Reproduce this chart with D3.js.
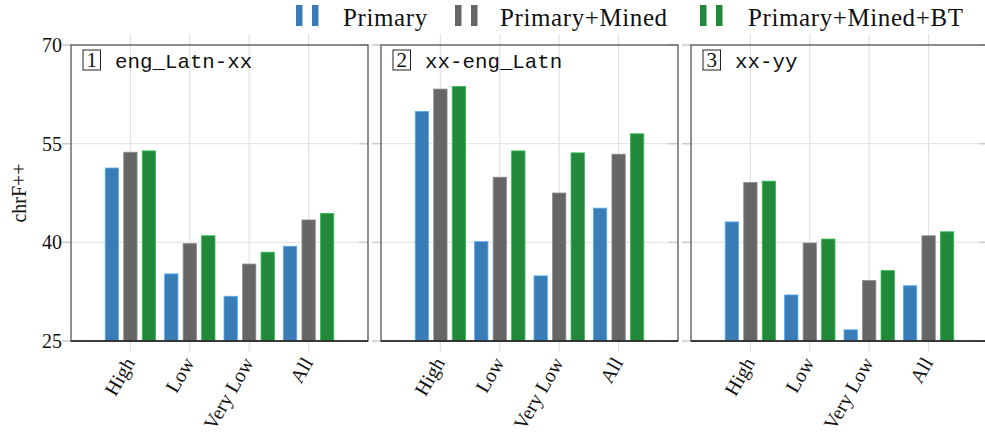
<!DOCTYPE html>
<html lang="en">
<head>
    <meta charset="UTF-8">
    <script src="https://d3js.org/d3.v7.min.js"></script>
    <title>chrF++ by resource level</title>
    <style>
        body { margin: 0; background: #fff; }
        .serif { font-family: "Liberation Serif", "DejaVu Serif", serif; fill: #111; }
        .mono { font-family: "Liberation Mono", "DejaVu Sans Mono", monospace; fill: #111; }
    </style>
</head>
<body>
    <div id="chart"></div>
<script>
    // data
    var categories = ["High", "Low", "Very Low", "All"];
    var series = ["Primary", "Primary+Mined", "Primary+Mined+BT"];
    var panels = ["eng_Latn-xx", "xx-eng_Latn", "xx-yy"];
    var yTicks = [25, 40, 55, 70];

    // one row per series, one value per category
    var engToXX = [
        [51.3, 35.2, 31.8, 39.4],
        [53.7, 39.8, 36.7, 43.4],
        [53.9, 41.0, 38.5, 44.4]
    ];
    var xxToEng = [
        [59.9, 40.1, 34.9, 45.2],
        [63.3, 49.9, 47.5, 53.4],
        [63.7, 53.9, 53.6, 56.5]
    ];
    var xxToYY = [
        [43.1, 32.0, 26.7, 33.4],
        [49.1, 39.9, 34.2, 41.0],
        [49.3, 40.5, 35.7, 41.6]
    ];
    var values = [engToXX, xxToEng, xxToYY];

    var colors = ["#3a7db6", "#666666", "#23893a"];

    var W = 985, H = 436;
    var plotTop = 45, plotBottom = 341, left0 = 71, panelW = 297, gap = 13;

    var svg = d3.select("#chart").append("svg")
        .attr("width", W).attr("height", H);

    var y = d3.scaleLinear().domain([25, 70]).range([plotBottom, plotTop]);

    panels.forEach(function(name, p) {
        var left = left0 + p * (panelW + gap), right = left + panelW;
        var g = svg.append("g");

        var x0 = d3.scalePoint().domain(categories).range([left, right]).padding(1);
        var groupW = x0.step() * 0.935;
        var x1 = d3.scaleBand().domain(series).range([-groupW / 2, groupW / 2])
            .paddingInner(0.28).paddingOuter(0.14);

        // vertical grid lines (with tick marks above and below)
        g.selectAll(null).data(categories).enter().append("line")
            .attr("x1", function(d) { return x0(d); }).attr("x2", function(d) { return x0(d); })
            .attr("y1", plotTop - 11).attr("y2", plotBottom + 11)
            .attr("stroke", "#e2e2e2").attr("stroke-width", 1.2);

        // horizontal grid lines
        g.selectAll(null).data(yTicks).enter().append("line")
            .attr("x1", left - 9).attr("x2", right)
            .attr("y1", function(d) { return y(d); }).attr("y2", function(d) { return y(d); })
            .attr("stroke", "#e6e6e6").attr("stroke-width", 1.2);
        // tick marks on both sides
        [[left - 9, left], [right - 9, right]].forEach(function(seg) {
            g.selectAll(null).data(yTicks).enter().append("line")
                .attr("x1", seg[0]).attr("x2", seg[1])
                .attr("y1", function(d) { return y(d); }).attr("y2", function(d) { return y(d); })
                .attr("stroke", "#cccccc").attr("stroke-width", 1.5);
        });

        // bars
        series.forEach(function(s, si) {
            g.selectAll(null).data(values[p][si]).enter().append("rect")
                .attr("x", function(d, i) { return x0(categories[i]) + x1(s); })
                .attr("width", x1.bandwidth())
                .attr("y", function(d) { return y(d); })
                .attr("height", function(d) { return plotBottom - y(d); })
                .attr("fill", colors[si])
                .attr("stroke", d3.color(colors[si]).brighter(0.9))
                .attr("stroke-width", 0.8);
        });

        // frame
        g.append("rect")
            .attr("x", left).attr("y", plotTop).attr("width", panelW).attr("height", plotBottom - plotTop)
            .attr("fill", "none").attr("stroke", "#555").attr("stroke-width", 1.3);
        g.append("line")
            .attr("x1", left).attr("x2", right).attr("y1", plotBottom).attr("y2", plotBottom)
            .attr("stroke", "#222").attr("stroke-width", 1.4);

        // panel title
        g.append("rect")
            .attr("x", left + 12).attr("y", 50).attr("width", 17.5).attr("height", 20)
            .attr("fill", "none").attr("stroke", "#222").attr("stroke-width", 1);
        g.append("text").attr("class", "serif")
            .attr("x", left + 20.8).attr("y", 67).attr("text-anchor", "middle")
            .style("font-size", "21px").text(p + 1);
        g.append("text").attr("class", "mono")
            .attr("x", left + 44).attr("y", 68)
            .style("font-size", "20.8px").text(name);

        // x tick labels
        g.selectAll(null).data(categories).enter().append("text")
            .attr("class", "serif")
            .attr("transform", function(d) { return "translate(" + (x0(d) - 1) + "," + (plotBottom + 18) + ") rotate(-60)"; })
            .attr("text-anchor", "end").attr("dy", "0.35em")
            .style("font-size", "20px").text(function(d) { return d; });

        // y tick labels on first panel only
        if (p === 0) {
            g.selectAll(null).data(yTicks).enter().append("text")
                .attr("class", "serif")
                .attr("x", 62).attr("y", function(d) { return y(d); })
                .attr("dy", "0.35em").attr("text-anchor", "end")
                .style("font-size", "20px").text(function(d) { return d; });
        }
    });

    // y axis title
    svg.append("text").attr("class", "serif")
        .attr("transform", "translate(26," + ((plotTop + plotBottom) / 2) + ") rotate(-90)")
        .attr("text-anchor", "middle")
        .style("font-size", "20px").text("chrF++");

    // legend
    var legendIcon = [296, 455, 700], legendText = [343, 500, 748];
    series.forEach(function(s, i) {
        [0, 16].forEach(function(off) {
            svg.append("rect")
                .attr("x", legendIcon[i] + off).attr("y", 5).attr("width", 6.5).attr("height", 21)
                .attr("fill", colors[i]);
        });
        svg.append("text").attr("class", "serif")
            .attr("x", legendText[i]).attr("y", 26)
            .style("font-size", "25px").style("letter-spacing", "0.6px").text(s);
    });
</script>
</body>
</html>
